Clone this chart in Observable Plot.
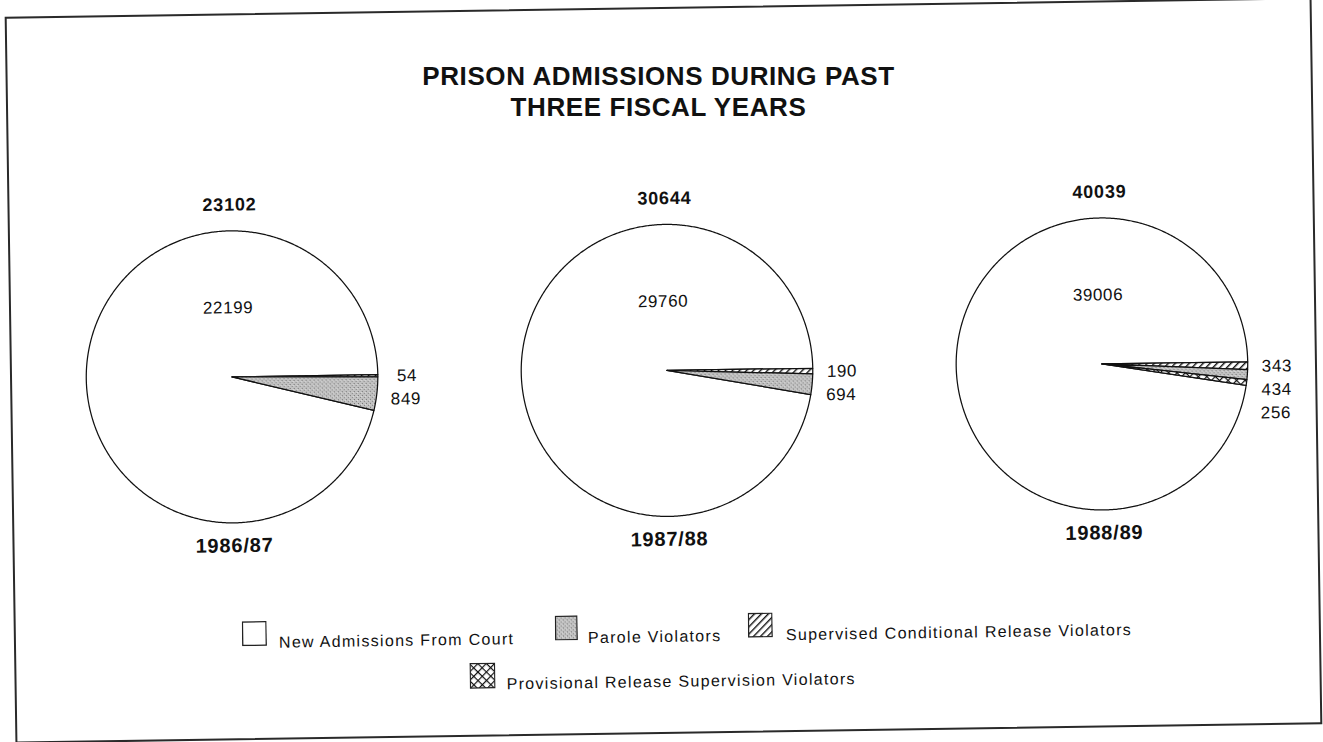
<!DOCTYPE html>
<html>
<head>
<meta charset="utf-8">
<script src="https://cdn.jsdelivr.net/npm/d3@7"></script>
<script src="https://cdn.jsdelivr.net/npm/@observablehq/plot@0.6"></script>
<style>
  html, body { margin: 0; padding: 0; background: #fff; }
  body { position: relative; width: 1323px; height: 742px; overflow: hidden; font-family: "Liberation Sans", Arial, Helvetica, sans-serif; color: #111; }
  #page { position: absolute; left: 0; top: 0; width: 1323px; height: 742px; transform: rotate(-0.85deg); transform-origin: 661.5px 371px; }
  #frame { position: absolute; left: 10px; top: 7px; width: 1307px; height: 727px; border: 2px solid #2a2a2a; box-sizing: border-box; }
  #title { position: absolute; left: 0; top: 0; width: 1317px; }
  .title-line { position: absolute; left: 0; width: 1317px; text-align: center; font-weight: bold; font-size: 26px; line-height: 26px; letter-spacing: 0.6px; white-space: nowrap; }
  #chart { position: absolute; left: 0; top: 150px; }
  .lg-box { position: absolute; }
  .lg-text { position: absolute; font-size: 16px; line-height: 16px; letter-spacing: 1.3px; white-space: nowrap; }
  #chart g[font-size="17"] text { letter-spacing: 0.6px; }
  #chart g[font-size="18"] text { letter-spacing: 0.8px; }
  #chart g[font-size="20"] text { letter-spacing: 0.8px; }
</style>
</head>
<body>
<svg width="0" height="0" style="position:absolute">
  <defs>
    <pattern id="pat-parole" width="4" height="4" patternUnits="userSpaceOnUse">
      <rect width="4" height="4" fill="#c2c2c2"></rect>
      <rect x="0" y="0" width="1" height="1" fill="#6e6e6e"></rect>
      <rect x="2" y="2" width="1" height="1" fill="#808080"></rect>
      <rect x="3" y="1" width="1" height="1" fill="#e0e0e0"></rect>
    </pattern>
    <pattern id="pat-scr" width="5" height="5" patternUnits="userSpaceOnUse" patternTransform="rotate(45)">
      <rect width="5" height="5" fill="#fff"></rect>
      <line x1="0.7" y1="0" x2="0.7" y2="5" stroke="#111" stroke-width="1.4"></line>
    </pattern>
    <pattern id="pat-prov" width="6" height="6" patternUnits="userSpaceOnUse" patternTransform="rotate(45)">
      <rect width="6" height="6" fill="#fff"></rect>
      <line x1="0.6" y1="0" x2="0.6" y2="6" stroke="#111" stroke-width="1.2"></line>
      <line x1="0" y1="0.6" x2="6" y2="0.6" stroke="#111" stroke-width="1.2"></line>
    </pattern>
  </defs>
</svg>
<div id="page">
  <div id="frame"></div>
  <div id="chart"></div>
  <div id="legend"></div>
</div>
<div id="title"></div>
<script>
// ---------------- data ----------------
const title = ["PRISON ADMISSIONS DURING PAST", "THREE FISCAL YEARS"];
const years = ["1986/87", "1987/88", "1988/89"];
const totals = [23102, 30644, 40039];
const newAdmissions = [22199, 29760, 39006];
const paroleViolators = [849, 694, 434];
const supervisedConditionalRelease = [54, 190, 343];
const provisionalReleaseSupervision = [null, null, 256];
const categories = [
  "New Admissions From Court",
  "Parole Violators",
  "Supervised Conditional Release Violators",
  "Provisional Release Supervision Violators"
];
const categoryFills = ["#ffffff", "url(#pat-parole)", "url(#pat-scr)", "url(#pat-prov)"];
// clockwise drawing order starting at 3 o'clock (indexes into categories)
const sliceOrder = [2, 1, 3, 0];

// ---------------- layout constants ----------------
const W = 1323, H = 450;
const ML = 13, MR = 3;
const R_PX = 146;                 // pixels per unit radius
const PIE_CY = 220;               // pie centre within svg
const facetW = (W - ML - MR) / years.length;
const XH = facetW / 2 / R_PX;
const yMax = PIE_CY / R_PX, yMin = -(H - PIE_CY) / R_PX;
const LABEL_R = 1.2, LABEL_GAP = 0.16;

// ---------------- build geometry from data ----------------
const series = [newAdmissions, paroleViolators, supervisedConditionalRelease, provisionalReleaseSupervision];
const slicePoints = [];
const sliceLabels = [];
const pieLabels = [];
years.forEach((year, i) => {
  const parts = sliceOrder
    .map(c => ({cat: categories[c], value: series[c][i]}))
    .filter(p => p.value != null && p.value > 0);
  const sum = d3.sum(parts, p => p.value);
  let cum = 0;
  const groups = parts.map(p => {
    const a0 = cum / sum * 2 * Math.PI;
    const a1 = (cum + p.value) / sum * 2 * Math.PI;
    cum += p.value;
    const n = Math.max(2, Math.ceil((a1 - a0) / (Math.PI / 360)));
    const pts = [{year, cat: p.cat, x: 0, y: 0}];
    for (let k = 0; k <= n; ++k) {
      const t = a0 + (a1 - a0) * k / n;
      pts.push({year, cat: p.cat, x: Math.cos(t), y: -Math.sin(t)});
    }
    pts.push({year, cat: p.cat, x: 0, y: 0});
    return {cat: p.cat, value: p.value, a0, a1, pts};
  });
  const main = groups.filter(g => g.cat === categories[0]);
  const small = groups.filter(g => g.cat !== categories[0]);
  main.concat(small).forEach(g => slicePoints.push(...g.pts));
  let prev = -Infinity;
  small.forEach(g => {
    const mid = (g.a0 + g.a1) / 2;
    let d = LABEL_R * Math.sin(mid);
    d = Math.max(d, prev + LABEL_GAP);
    prev = d;
    sliceLabels.push({year, x: LABEL_R * Math.cos(mid), y: -d, text: String(g.value)});
  });
  pieLabels.push({year, totalText: String(totals[i]), mainText: String(newAdmissions[i])});
});

// ---------------- title ----------------
const titleTops = [63, 94];
d3.select("#title").selectAll("div").data(title).join("div")
  .attr("class", "title-line")
  .style("top", (d, i) => titleTops[i] + "px")
  .text(d => d);

// ---------------- plot ----------------
const chart = Plot.plot({
  width: W,
  height: H,
  marginTop: 0, marginBottom: 0, marginLeft: ML, marginRight: MR,
  x: {domain: [-XH, XH], axis: null},
  y: {domain: [yMin, yMax], axis: null},
  fx: {domain: years, padding: 0, axis: null},
  color: {domain: categories, range: categoryFills},
  style: {fontFamily: '"Liberation Sans", Arial, Helvetica, sans-serif', background: "transparent", color: "#111", overflow: "visible"},
  marks: [
    Plot.line(slicePoints, {fx: "year", x: "x", y: "y", z: "cat", fill: "cat", stroke: "#111", strokeWidth: 1.25, strokeLinejoin: "round", curve: "linear"}),
    Plot.text(pieLabels, {fx: "year", x: 0, y: 172 / R_PX, text: "totalText", fontWeight: "bold", fontSize: 18, fill: "#111"}),
    Plot.text(pieLabels, {fx: "year", x: -0.02, y: 69 / R_PX, text: "mainText", fontSize: 17, fill: "#111"}),
    Plot.text(pieLabels, {fx: "year", x: 0, y: -169 / R_PX, text: "year", fontWeight: "bold", fontSize: 20, fill: "#111"}),
    Plot.text(sliceLabels, {fx: "year", x: "x", y: "y", text: "text", fontSize: 17, fill: "#111"})
  ]
});
document.getElementById("chart").appendChild(chart);

// ---------------- legend ----------------
const legendItems = [
  {cat: 0, box: [238, 615, 25, 25], text: [275, 628.5]},
  {cat: 1, box: [551, 614, 23, 25], text: [584, 628.5]},
  {cat: 2, box: [744, 614, 25, 25], text: [782, 628.5]},
  {cat: 3, box: [465, 660, 26, 26], text: [502, 673.5]}
];
const legend = d3.select("#legend");
legendItems.forEach(item => {
  const [bx, by, bw, bh] = item.box;
  const svg = legend.append("svg").attr("class", "lg-box")
    .style("left", bx + "px").style("top", by + "px")
    .attr("width", bw).attr("height", bh);
  svg.append("rect").attr("x", 0.75).attr("y", 0.75).attr("width", bw - 1.5).attr("height", bh - 1.5)
    .attr("fill", categoryFills[item.cat]).attr("stroke", "#222").attr("stroke-width", 1.3);
  legend.append("div").attr("class", "lg-text")
    .style("left", item.text[0] + "px").style("top", item.text[1] + "px")
    .text(categories[item.cat]);
});
</script>
</body>
</html>
